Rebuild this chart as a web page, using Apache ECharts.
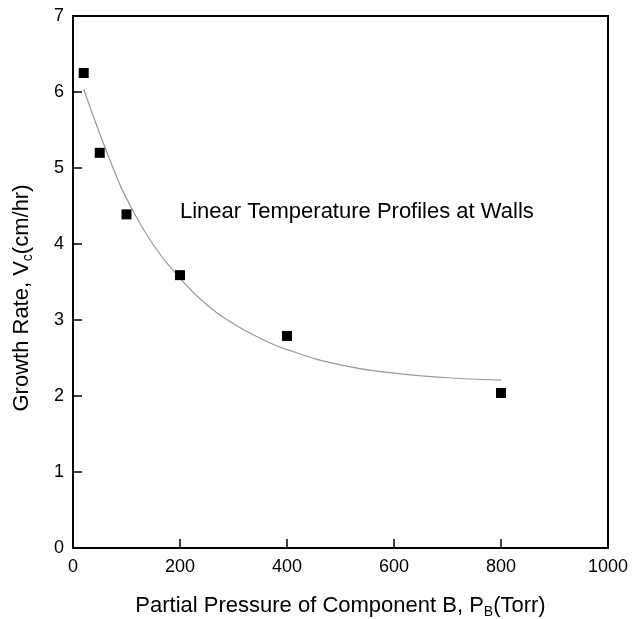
<!DOCTYPE html>
<html>
<head>
<meta charset="utf-8">
<script src="https://cdn.jsdelivr.net/npm/echarts@6/dist/echarts.min.js"></script>
<style>html,body{margin:0;padding:0;background:#fff}#c{width:635px;height:619px}</style>
</head>
<body>
<div id="c"></div>
<script>
var pressure = [20, 50, 100, 200, 400, 800];
var growthRate = [6.25, 5.2, 4.39, 3.59, 2.79, 2.04];
var fitPressure = [20, 50, 75, 100, 150, 200, 250, 300, 350, 400, 500, 600, 700, 800];
var fitRate = [6.04, 5.45, 5.0, 4.6, 3.99, 3.55, 3.2, 2.95, 2.76, 2.61, 2.41, 2.3, 2.24, 2.21];
var xTicks = [0, 200, 400, 600, 800, 1000];
var yTicks = [0, 1, 2, 3, 4, 5, 6, 7];

var font = 'Liberation Sans, Arial, sans-serif';
var subStyle = { fontSize: 14, fontFamily: font, color: '#000', verticalAlign: 'bottom', padding: [12, 0, 0, 0] };
var chart = echarts.init(document.getElementById('c'));
chart.setOption({
  animation: false,
  backgroundColor: '#fff',
  grid: { left: 73, right: 27, top: 16, bottom: 71, show: true, borderColor: '#000', borderWidth: 2,
    containLabel: false, outerBoundsMode: 'none' },
  xAxis: {
    type: 'value', min: xTicks[0], max: xTicks[xTicks.length - 1], interval: 200,
    axisLine: { lineStyle: { color: '#000', width: 2 } },
    axisTick: { inside: true, length: 9, lineStyle: { color: '#000', width: 1.5 } },
    axisLabel: { color: '#000', fontSize: 18, fontFamily: font, margin: 10, formatter: function (v) { return String(v); } },
    splitLine: { show: false },
    name: 'Partial Pressure of Component B, P{sub|B}(Torr)',
    nameLocation: 'middle', nameGap: 45,
    nameTextStyle: { color: '#000', fontSize: 22, fontFamily: font, rich: { sub: subStyle } }
  },
  yAxis: {
    type: 'value', min: yTicks[0], max: yTicks[yTicks.length - 1], interval: 1,
    axisLine: { lineStyle: { color: '#000', width: 2 } },
    axisTick: { inside: true, length: 9, lineStyle: { color: '#000', width: 1.5 } },
    axisLabel: { color: '#000', fontSize: 18, fontFamily: font, margin: 9 },
    splitLine: { show: false }
  },
  graphic: [{
    type: 'text', left: 180, top: 201,
    style: { text: 'Linear Temperature Profiles at Walls', fill: '#000', fontSize: 22, fontFamily: font }
  }, {
    type: 'text', x: 22, y: 298, rotation: Math.PI / 2,
    style: { text: 'Growth Rate, V{sub|c}(cm/hr)', fill: '#000', fontSize: 22, fontFamily: font,
      align: 'center', verticalAlign: 'middle', rich: { sub: subStyle } }
  }],
  series: [
    {
      type: 'line', data: fitPressure.map(function (x, i) { return [x, fitRate[i]]; }),
      smooth: true, showSymbol: false, lineStyle: { color: '#999', width: 1.2 }, z: 1
    },
    {
      type: 'scatter', data: pressure.map(function (x, i) { return [x, growthRate[i]]; }),
      symbol: 'rect', symbolSize: 10, itemStyle: { color: '#000', opacity: 1 }, z: 2
    }
  ]
});
</script>
</body>
</html>
